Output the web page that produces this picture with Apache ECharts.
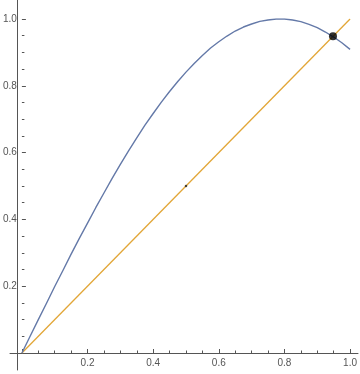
<!DOCTYPE html>
<html><head><meta charset="utf-8">
<script src="https://cdn.jsdelivr.net/npm/echarts@6/dist/echarts.min.js"></script>
<style>html,body{margin:0;padding:0;background:#fff}#c{width:360px;height:374px}</style>
</head><body><div id="c"></div>
<script>
var curveX = [0,0.025,0.05,0.075,0.1,0.125,0.15,0.175,0.2,0.225,0.25,0.275,0.3,0.325,0.35,0.375,0.4,0.425,0.45,0.475,0.5,0.525,0.55,0.575,0.6,0.625,0.65,0.675,0.7,0.725,0.75,0.775,0.8,0.825,0.85,0.875,0.9,0.925,0.95,0.975,1.0];
var curveY = [0,0.050,0.100,0.149,0.199,0.247,0.296,0.343,0.389,0.435,0.479,0.523,0.565,0.605,0.644,0.682,0.717,0.751,0.783,0.813,0.841,0.867,0.891,0.913,0.932,0.949,0.964,0.976,0.985,0.993,0.997,1.000,1.000,0.997,0.992,0.984,0.974,0.961,0.946,0.929,0.909];
var lineX = [0, 1];
var lineY = [0, 1];
var crossPoint = [0.948, 0.948];
var midPoint = [0.5, 0.5];
var tickValues = [0.2, 0.4, 0.6, 0.8, 1.0];

var axisColor = '#555';
function fmt(v){ return Math.abs(v) < 1e-9 ? '' : v.toFixed(1); }
function mainAxis(idx){
  return {
    type:'value', gridIndex:0, min:0, max:1, interval:0.2,
    axisLine:{show:false},
    axisTick:{show:true, inside:true, length:4, lineStyle:{color:axisColor, width:1}},
    minorTick:{show:true, splitNumber:4, length:2.5, lineStyle:{color:axisColor, width:1}},
    axisLabel:{show:true, formatter:fmt, color:'#555', fontSize:10, fontFamily:'Liberation Sans, Arial, sans-serif', margin:5},
    splitLine:{show:false}, minorSplitLine:{show:false}
  };
}
function frameAxis(mn, mx){
  return {
    type:'value', gridIndex:1, min:mn, max:mx,
    axisLine:{show:true, onZero:true, lineStyle:{color:axisColor, width:1}},
    axisTick:{show:false}, axisLabel:{show:false}, splitLine:{show:false}
  };
}
var chart = echarts.init(document.getElementById('c'), null, {renderer:'canvas'});
var curve = curveX.map(function(x,i){ return [x, curveY[i]]; });
var line = lineX.map(function(x,i){ return [x, lineY[i]]; });
chart.setOption({
  animation:false,
  backgroundColor:'#fff',
  grid:[
    {left:17, right:8, top:19, bottom:21},
    {left:10, right:2, top:0, bottom:4}
  ],
  xAxis:[mainAxis(0), frameAxis(-0.0209, 1.0179)],
  yAxis:[mainAxis(0), frameAxis(-0.0509, 1.0569)],
  series:[
    {type:'line', xAxisIndex:0, yAxisIndex:0, data:curve, showSymbol:false, smooth:false,
     lineStyle:{color:'#6479A8', width:1.4}, z:3},
    {type:'line', xAxisIndex:0, yAxisIndex:0, data:line, showSymbol:false,
     lineStyle:{color:'#E2A637', width:1.3}, z:2},
    {type:'scatter', xAxisIndex:0, yAxisIndex:0, data:[midPoint], symbolSize:2.5,
     itemStyle:{color:'#222'}, z:4},
    {type:'scatter', xAxisIndex:0, yAxisIndex:0, data:[crossPoint], symbolSize:8,
     itemStyle:{color:'#000'}, z:5}
  ]
});
</script></body></html>
